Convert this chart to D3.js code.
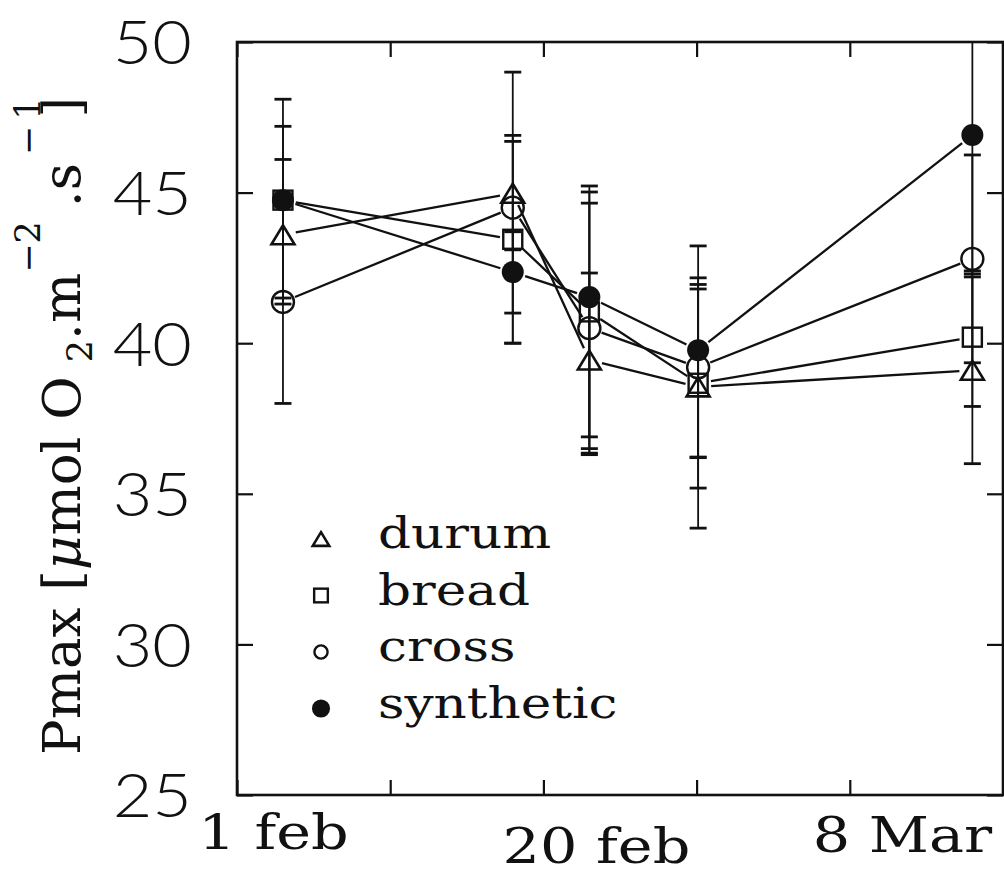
<!DOCTYPE html>
<html><head><meta charset="utf-8">
<script src="https://cdn.jsdelivr.net/npm/d3@7"></script>
<style>body{margin:0;background:#fff}</style>
</head><body><svg id="c" width="1004" height="875"></svg>
<script>
// ---------- data ----------
const seriesNames = ["durum", "bread", "cross", "synthetic"];
const sampleX = [0.30, 1.80, 2.30, 3.01, 4.80];           // sampling dates, in axis-interval units
const durum     = [43.6, 44.98, 39.44, 38.55, 39.1];
const bread     = [44.75, 43.45, 41.04, 38.67, 40.2];
const cross     = [41.37, 44.5, 40.5, 39.2, 42.8];
const synthetic = [44.75, 42.36, 41.53, 39.77, 46.91];
// error bar ends (upper / lower); null = not drawn
const durumHi     = [46.1, 46.9, 42.33, 41.95, 42.2];
const durumLo     = [41.3, 43.1, 36.5, 35.19, 36.0];
const breadHi     = [47.2, 46.7, 45.02, 41.8, 42.4];
const breadLo     = [null, 40.0, 36.89, 33.86, 37.9];
const crossHi     = [44.7, 49.0, 44.65, 42.17, 46.25];
const crossLo     = [38.0, 40.0, 36.35, 36.2, 39.35];
const syntheticHi = [48.1, 43.7, 45.22, 43.23, 51.5];
const syntheticLo = [41.5, 41.0, 36.3, 36.22, 42.3];
const yTicks = [25, 30, 35, 40, 45, 50];
const xTicks = [0, 1, 2, 3, 4, 5];
const xLabels = ["1 feb", "20 feb", "8 Mar"];
const xLabelPos = [0.235, 2.343, 4.34];

// ---------- setup ----------
const svg = d3.select("#c");
const L = 237, R = 1003, T = 42, B = 795;
const x = d3.scaleLinear().domain([0, 5]).range([L, R]);
const y = d3.scaleLinear().domain([25, 50]).range([B, T]);

const vals = {durum, bread, cross, synthetic};
const his = {durum: durumHi, bread: breadHi, cross: crossHi, synthetic: syntheticHi};
const los = {durum: durumLo, bread: breadLo, cross: crossLo, synthetic: syntheticLo};
const shape = {durum: "triangle", bread: "square", cross: "circle", synthetic: "filled"};
const typeFont = "'DejaVu Serif', serif";

svg.append("defs").append("clipPath").attr("id", "plot")
  .append("rect").attr("x", L).attr("y", T).attr("width", R - L).attr("height", B - T);

// ---------- axes ----------
const gL = svg.append("g").attr("transform", `translate(${L},0)`)
  .call(d3.axisLeft(y).tickValues(yTicks).tickSizeInner(-16).tickSizeOuter(0).tickPadding(44).tickFormat(d3.format("d")));
const gR = svg.append("g").attr("transform", `translate(${R},0)`)
  .call(d3.axisRight(y).tickValues(yTicks).tickSizeInner(-16).tickSizeOuter(0).tickFormat(""));
const gB = svg.append("g").attr("transform", `translate(0,${B})`)
  .call(d3.axisBottom(x).tickValues(xTicks).tickSizeInner(-15).tickSizeOuter(0).tickFormat(""));
const gT = svg.append("g").attr("transform", `translate(0,${T})`)
  .call(d3.axisTop(x).tickValues(xTicks).tickSizeInner(-15).tickSizeOuter(0).tickFormat(""));
[gL, gR, gB, gT].forEach(g => {
  g.select(".domain").remove();
  g.selectAll(".tick line").attr("stroke", "#111").attr("stroke-width", 2.2);
});
gL.selectAll(".tick text")
  .attr("font-family", "Lato, 'DejaVu Sans', sans-serif")
  .attr("font-weight", 300)
  .attr("font-size", 61)
  .attr("fill", "#111")
  .attr("x", 0)
  .attr("dy", "0.36em")
  .attr("transform", "translate(-45,0) scale(1.12,1)");

// x labels
const gX = svg.append("g").attr("transform", `translate(0,${B})`)
  .call(d3.axisBottom(x).tickValues(xLabelPos).tickSize(0).tickPadding(0)
    .tickFormat((d, i) => xLabels[i]));
gX.select(".domain").remove();
const labelDy = [54, 68, 57];
gX.selectAll(".tick text")
  .attr("font-family", typeFont)
  .attr("font-size", 49)
  .attr("fill", "#111")
  .attr("dy", null)
  .attr("y", (d, i) => labelDy[i])
  .attr("transform", "scale(1.2,1)");

// frame
svg.append("rect").attr("x", L).attr("y", T).attr("width", R - L).attr("height", B - T)
  .attr("fill", "none").attr("stroke", "#111").attr("stroke-width", 2.6);

// ---------- y title ----------
const title = svg.append("text")
  .attr("transform", "translate(80,755) rotate(-90)")
  .attr("font-family", "'DejaVu Serif', serif")
  .attr("font-size", 53)
  .attr("fill", "#111");
title.append("tspan").text("Pmax [");
title.append("tspan").attr("font-style", "italic").text("\u03bc");
title.append("tspan").text("mol O");
title.append("tspan").attr("font-size", 35).attr("dx", 14).attr("dy", 12).text("2");
title.append("tspan").attr("dy", -12).text(".m");
title.append("tspan").attr("font-size", 35).attr("dy", -40).text("\u22122");
title.append("tspan").attr("dx", 14).attr("dy", 40).text(".s");
title.append("tspan").attr("font-size", 35).attr("dx", 8).attr("dy", -40).attr("letter-spacing", 6).text("\u22121");
title.append("tspan").attr("dx", -26).attr("dy", 40).text("]");

// ---------- data marks ----------
const plot = svg.append("g").attr("clip-path", "url(#plot)");
const gap = 13;
seriesNames.forEach(s => {
  const pts = vals[s].map((v, i) => [x(sampleX[i]), y(v)]);
  const segs = d3.pairs(pts).map(([a, b]) => {
    const dx = b[0] - a[0], dy = b[1] - a[1], len = Math.hypot(dx, dy);
    const ux = dx / len, uy = dy / len;
    return [[a[0] + ux * gap, a[1] + uy * gap], [b[0] - ux * gap, b[1] - uy * gap]];
  });
  plot.selectAll(null).data(segs).enter().append("path")
    .attr("d", d => d3.line()(d))
    .attr("stroke", "#111").attr("stroke-width", 2.3).attr("fill", "none");
});

// error bars
seriesNames.forEach(s => {
  vals[s].forEach((v, i) => {
    const cx = x(sampleX[i]);
    [his[s][i], los[s][i]].forEach(e => {
      if (e === null) return;
      plot.append("line").attr("x1", cx).attr("x2", cx).attr("y1", y(v)).attr("y2", y(e))
        .attr("stroke", "#111").attr("stroke-width", 1.8);
      plot.append("line").attr("x1", cx - 8.5).attr("x2", cx + 8.5).attr("y1", y(e)).attr("y2", y(e))
        .attr("stroke", "#111").attr("stroke-width", 2.8);
    });
  });
});

function drawSymbol(g, kind, cx, cy, sc) {
  if (kind === "triangle") {
    const w = 23 * sc, h = 19 * sc;
    g.append("path").attr("d", `M${cx},${cy - h / 2}L${cx + w / 2},${cy + h / 2}L${cx - w / 2},${cy + h / 2}Z`)
      .attr("fill", "none").attr("stroke", "#111").attr("stroke-width", 2.6).attr("stroke-linejoin", "miter");
  } else if (kind === "square") {
    const a = 19 * sc;
    g.append("rect").attr("x", cx - a / 2).attr("y", cy - a / 2).attr("width", a).attr("height", a)
      .attr("fill", "none").attr("stroke", "#111").attr("stroke-width", 2.4);
  } else if (kind === "circle") {
    g.append("circle").attr("cx", cx).attr("cy", cy).attr("r", 11 * sc)
      .attr("fill", "none").attr("stroke", "#111").attr("stroke-width", 2.4);
  } else {
    g.append("circle").attr("cx", cx).attr("cy", cy).attr("r", 11 * sc).attr("fill", "#111");
  }
}
const marks = svg.append("g");
["durum", "bread", "cross", "synthetic"].forEach(s => {
  vals[s].forEach((v, i) => drawSymbol(marks, shape[s], x(sampleX[i]), y(v), 1));
});

// ---------- legend ----------
const leg = svg.append("g");
const legScale = {durum: 0.72, bread: 0.72, cross: 0.6, synthetic: 0.82};
seriesNames.forEach((s, i) => {
  const by = 548 + i * 56.5;
  drawSymbol(leg, shape[s], 321, by - 9, legScale[s]);
  leg.append("text").attr("transform", `translate(378,${by}) scale(1.2,1)`)
    .attr("font-family", typeFont)
    .attr("font-size", 43).attr("fill", "#111").text(s);
});
</script>
</body></html>
